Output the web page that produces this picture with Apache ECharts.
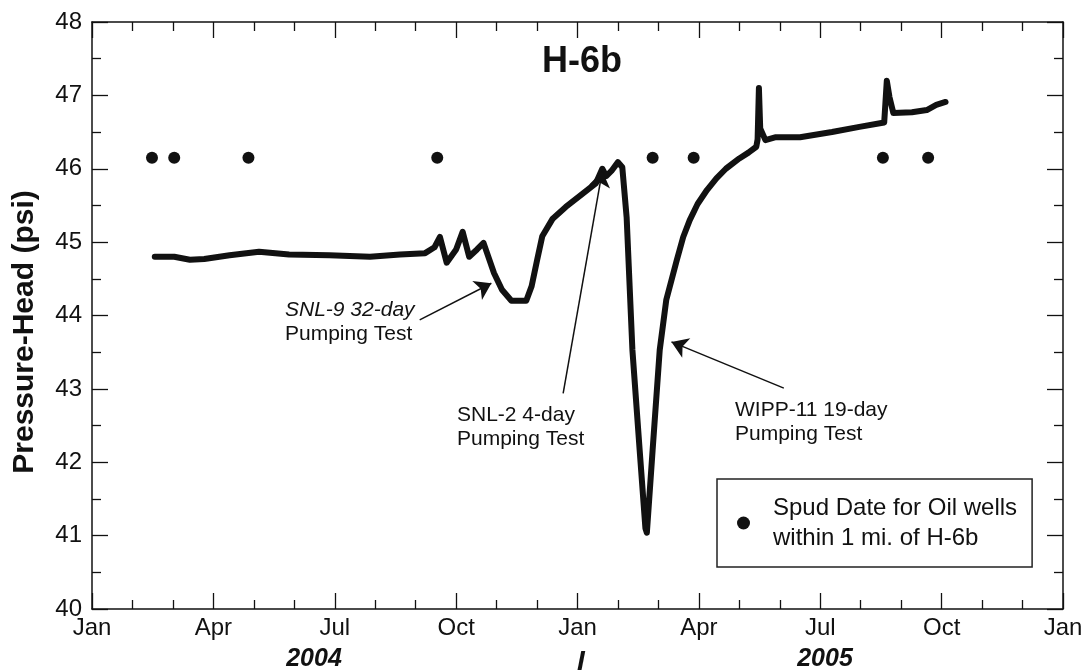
<!DOCTYPE html>
<html>
<head>
<meta charset="utf-8">
<script src="https://cdn.jsdelivr.net/npm/echarts@6/dist/echarts.min.js"></script>
<style>
  html, body { margin: 0; padding: 0; background: #fff; }
  #chart { width: 1087px; height: 672px; }
</style>
</head>
<body>
<div id="chart"></div>
<script>
// ---------------- DATA ----------------
const monthNames = ['Jan','Feb','Mar','Apr','May','Jun','Jul','Aug','Sep','Oct','Nov','Dec'];
const yearLabels = ['2004', '2005'];

// H-6b pressure-head record (date, psi)
const headDates = [
  '2004-02-17','2004-03-02','2004-03-14','2004-03-25','2004-04-13','2004-05-05','2004-05-28',
  '2004-06-27','2004-07-28','2004-08-20','2004-09-08','2004-09-15','2004-09-19','2004-09-24',
  '2004-10-01','2004-10-06','2004-10-11','2004-10-17','2004-10-22','2004-10-30','2004-11-05',
  '2004-11-12','2004-11-23','2004-11-27','2004-12-01','2004-12-05','2004-12-13','2004-12-23',
  '2005-01-05','2005-01-15','2005-01-20','2005-01-23','2005-01-27','2005-02-01','2005-02-04',
  '2005-02-07','2005-02-11','2005-02-16','2005-02-20','2005-02-21','2005-02-25','2005-03-02',
  '2005-03-07','2005-03-15','2005-03-20','2005-03-25','2005-03-31','2005-04-07','2005-04-14',
  '2005-04-21','2005-05-01','2005-05-08','2005-05-14','2005-05-15','2005-05-16','2005-05-17',
  '2005-05-21','2005-05-29','2005-06-16','2005-07-10','2005-07-31','2005-08-19','2005-08-21',
  '2005-08-23','2005-08-26','2005-09-09','2005-09-20','2005-09-27','2005-10-04'
];
const headValues = [
  44.80, 44.80, 44.76, 44.77, 44.82, 44.87, 44.83,
  44.82, 44.80, 44.83, 44.85, 44.93, 45.07, 44.72,
  44.90, 45.14, 44.80, 44.90, 44.99, 44.58, 44.35,
  44.20, 44.20, 44.40, 44.75, 45.08, 45.32, 45.48,
  45.66, 45.80, 46.00, 45.90, 45.97, 46.09, 46.02,
  45.34, 43.53, 42.17, 41.10, 41.04, 42.17, 43.53,
  44.21, 44.75, 45.07, 45.30, 45.52, 45.71, 45.87,
  46.00, 46.14, 46.22, 46.30, 46.40, 47.10, 46.55,
  46.39, 46.43, 46.43, 46.50, 46.57, 46.63, 47.20,
  46.98, 46.76, 46.77, 46.80, 46.87, 46.91
];

// Spud dates for oil wells within 1 mi. of H-6b
const spudDates = ['2004-02-15','2004-03-02','2004-04-27','2004-09-17','2005-02-25','2005-03-28','2005-08-18','2005-09-21'];
const spudValues = [46.15, 46.15, 46.15, 46.15, 46.15, 46.15, 46.15, 46.15];

// Annotation arrows: [date, psi] of tail and head
const arrowFrom = [['2004-09-04', 43.94], ['2004-12-21', 42.94], ['2005-06-04', 43.01]];
const arrowTo   = [['2004-10-28', 44.44], ['2005-01-20', 45.97], ['2005-03-11', 43.64]];

const seriesNames = ['H-6b', 'Spud Date for Oil wells\nwithin 1 mi. of H-6b'];

// ---------------- HELPERS ----------------
function toMonth(s) {
  const p = s.split('-').map(Number);
  const dim = new Date(p[0], p[1], 0).getDate();
  return (p[0] - 2004) * 12 + (p[1] - 1) + (p[2] - 1) / dim;
}
const lineData = headDates.map((d, i) => [toMonth(d), headValues[i]]);
const spudData = spudDates.map((d, i) => [toMonth(d), spudValues[i]]);
const arrowData = arrowFrom.map((f, i) => [
  { coord: [toMonth(f[0]), f[1]] },
  { coord: [toMonth(arrowTo[i][0]), arrowTo[i][1]] }
]);

const FONT = '"Liberation Sans", Arial, Helvetica, sans-serif';
const INK = '#111';

const baseX = {
  type: 'value', min: 0, max: 24, interval: 3,
  splitLine: { show: false },
  axisLine: { show: true, onZero: false, lineStyle: { color: INK, width: 1.5 } },
  axisTick: { show: true, inside: true, length: 16, lineStyle: { color: INK, width: 1.3 } },
  minorTick: { show: true, splitNumber: 3, length: 9, lineStyle: { color: INK, width: 1.3 } },
  minorSplitLine: { show: false }
};
const baseY = {
  type: 'value', min: 40, max: 48, interval: 1,
  splitLine: { show: false },
  axisLine: { show: true, onZero: false, lineStyle: { color: INK, width: 1.5 } },
  axisTick: { show: true, inside: true, length: 16, lineStyle: { color: INK, width: 1.3 } },
  minorTick: { show: true, splitNumber: 2, length: 9, lineStyle: { color: INK, width: 1.3 } },
  minorSplitLine: { show: false }
};

const chart = echarts.init(document.getElementById('chart'), null, { renderer: 'canvas' });
chart.setOption({
  animation: false,
  backgroundColor: '#fff',
  textStyle: { fontFamily: FONT },
  grid: { left: 92, right: 24, top: 22, bottom: 63, containLabel: false },
  xAxis: [
    Object.assign({}, baseX, {
      position: 'bottom',
      axisLabel: {
        show: true, margin: 7, color: INK, fontSize: 24, fontFamily: FONT,
        showMinLabel: true, showMaxLabel: true,
        formatter: v => monthNames[Math.round(v) % 12]
      }
    }),
    Object.assign({}, baseX, { position: 'top', axisLabel: { show: false } })
  ],
  yAxis: [
    Object.assign({}, baseY, {
      position: 'left',
      axisLabel: { show: true, margin: 10, color: INK, fontSize: 24, fontFamily: FONT }
    }),
    Object.assign({}, baseY, { position: 'right', axisLabel: { show: false } })
  ],
  legend: {
    show: true,
    left: 717, top: 479,
    orient: 'vertical',
    data: [{ name: seriesNames[1], icon: 'circle' }],
    itemWidth: 13, itemHeight: 13,
    borderColor: '#222', borderWidth: 1.5, borderRadius: 0,
    backgroundColor: '#fff',
    padding: [14, 15, 14, 20],
    selectedMode: false,
    textStyle: { fontSize: 24, lineHeight: 30, color: INK, fontFamily: FONT, padding: [0, 0, 0, 18] }
  },
  series: [
    {
      name: seriesNames[0],
      type: 'line',
      data: lineData,
      showSymbol: false,
      symbol: 'none',
      smooth: false,
      lineStyle: { color: INK, width: 6, cap: 'round', join: 'round' },
      z: 3,
      markLine: {
        silent: true,
        symbol: ['none', 'arrow'],
        symbolSize: 16,
        label: { show: false },
        lineStyle: { color: INK, width: 1.5, type: 'solid' },
        data: arrowData
      }
    },
    {
      name: seriesNames[1],
      type: 'scatter',
      data: spudData,
      symbol: 'circle',
      symbolSize: 12,
      itemStyle: { color: INK, opacity: 1 },
      z: 4
    }
  ],
  graphic: [
    { type: 'text', x: 582, y: 62, style: { text: 'H-6b', font: 'bold 36px ' + FONT, fill: INK, textAlign: 'center', textVerticalAlign: 'middle' } },
    { type: 'text', x: 25, y: 332, rotation: Math.PI / 2, style: { text: 'Pressure-Head (psi)', font: 'bold 30px ' + FONT, fill: INK, textAlign: 'center', textVerticalAlign: 'middle' } },
    { type: 'text', x: 285, y: 298, style: { text: '{a|SNL-9 32-day}\n{b|Pumping Test}', rich: { a: { fontSize: 21, fontStyle: 'italic', fontFamily: FONT, fill: INK, lineHeight: 24 }, b: { fontSize: 21, fontFamily: FONT, fill: INK, lineHeight: 24 } }, fill: INK } },
    { type: 'text', x: 457, y: 403, style: { text: 'SNL-2 4-day\nPumping Test', font: '21px ' + FONT, lineHeight: 24, fill: INK } },
    { type: 'text', x: 735, y: 398, style: { text: 'WIPP-11 19-day\nPumping Test', font: '21px ' + FONT, lineHeight: 24, fill: INK } },
    { type: 'text', x: 314, y: 659, style: { text: yearLabels[0], font: 'italic bold 25px ' + FONT, fill: INK, textAlign: 'center', textVerticalAlign: 'middle' } },
    { type: 'text', x: 581, y: 662, style: { text: 'I', font: 'italic bold 28px ' + FONT, fill: INK, textAlign: 'center', textVerticalAlign: 'middle' } },
    { type: 'text', x: 825, y: 659, style: { text: yearLabels[1], font: 'italic bold 25px ' + FONT, fill: INK, textAlign: 'center', textVerticalAlign: 'middle' } }
  ]
});
</script>
</body>
</html>
